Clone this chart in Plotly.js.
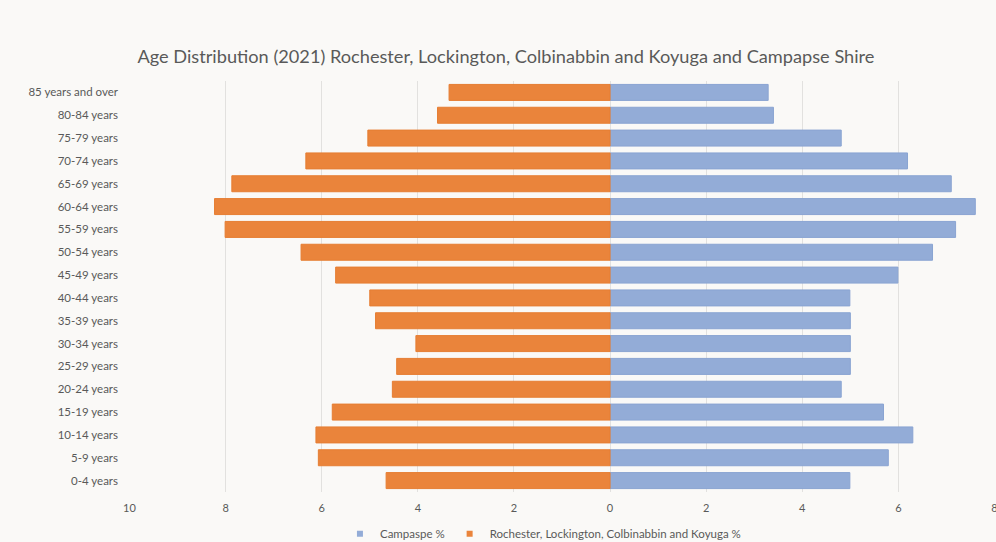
<!DOCTYPE html>
<html>
<head>
<meta charset="utf-8">
<script src="https://cdn.plot.ly/plotly-3.0.1.min.js"></script>
<style>html,body{margin:0;padding:0;background:#faf9f7;}#chart{width:996px;height:542px;}</style>
</head>
<body>
<div id="chart"></div>
<script>
const categories = ["0-4 years","5-9 years","10-14 years","15-19 years","20-24 years","25-29 years","30-34 years","35-39 years","40-44 years","45-49 years","50-54 years","55-59 years","60-64 years","65-69 years","70-74 years","75-79 years","80-84 years","85 years and over"];
const campaspe = [4.99,5.79,6.30,5.69,4.81,5.0,5.0,5.0,4.99,5.99,6.71,7.19,7.60,7.10,6.19,4.81,3.40,3.29];
const rochester = [4.66,6.07,6.12,5.78,4.53,4.44,4.04,4.88,5.00,5.71,6.43,8.01,8.23,7.87,6.33,5.04,3.59,3.35];
const tickVals = [-10,-8,-6,-4,-2,0,2,4,6,8];
const tickText = ["10","8","6","4","2","0","2","4","6","8"];
const seriesNames = ["Campaspe %","Rochester, Lockington, Colbinabbin and Koyuga %"];
const seriesColors = ["#93acd7","#ea843b"];

const font = "Lato, 'Open Sans', sans-serif";
const data = [
  {type:'bar', orientation:'h', name:seriesNames[0], y:categories, x:campaspe, showlegend:false,
   marker:{color:seriesColors[0], line:{color:'#8aa4d2', width:1}}},
  {type:'bar', orientation:'h', name:seriesNames[1], y:categories, x:rochester.map(v=>-v), showlegend:false,
   marker:{color:seriesColors[1], line:{color:'#e67e33', width:1}}},
  {type:'scatter', mode:'markers', name:seriesNames[0], x:[null], y:[null],
   marker:{symbol:'square', size:6, color:seriesColors[0]}},
  {type:'scatter', mode:'markers', name:seriesNames[1], x:[null], y:[null],
   marker:{symbol:'square', size:6, color:seriesColors[1]}}
];
const layout = {
  width:996, height:542,
  paper_bgcolor:'#faf9f7', plot_bgcolor:'#faf9f7',
  margin:{l:129, r:1, t:81, b:50, autoexpand:false},
  barmode:'overlay', bargap:0.3,
  title:{text:'Age Distribution (2021) Rochester, Lockington, Colbinabbin and Koyuga and Campapse Shire',
         font:{family:font, size:18.2, color:'#595959'}, x:0.508, xanchor:'center', y:0.895, yanchor:'middle'},
  xaxis:{range:[-10.01,8.01], tickvals:tickVals, ticktext:tickText, showgrid:true, gridcolor:'#e2e1df', gridwidth:1,
         zeroline:false, showline:false, ticks:'', ticklabelstandoff:8, ticklabeloverflow:'allow',
         tickfont:{family:font, size:11, color:'#595959'}, fixedrange:true},
  yaxis:{type:'category', categoryorder:'array', categoryarray:categories, showgrid:false, zeroline:false,
         ticks:'', ticklabelstandoff:10, tickfont:{family:font, size:11.5, color:'#595959'}, automargin:false},
  legend:{orientation:'h', x:0.478, xanchor:'center', yref:'container', y:0.015, yanchor:'middle', traceorder:'normal',
          font:{family:font, size:11.5, color:'#595959'}, itemwidth:30},
  showlegend:true
};
Plotly.newPlot('chart', data, layout, {displayModeBar:false, staticPlot:true});
</script>
</body>
</html>
